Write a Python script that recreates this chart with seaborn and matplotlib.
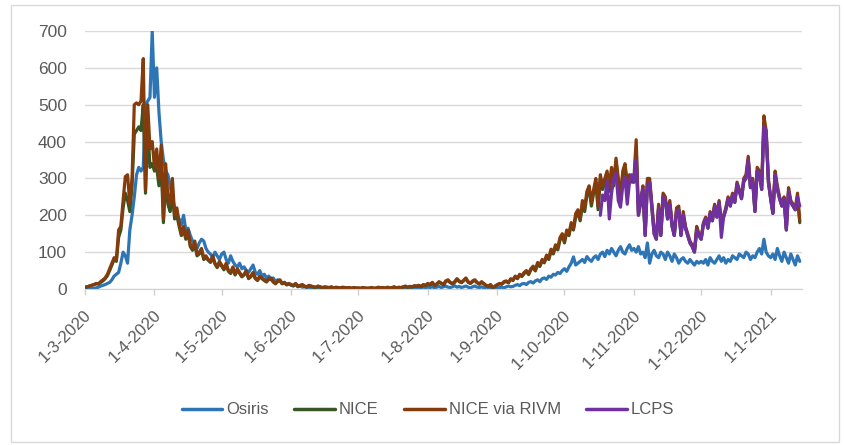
import numpy as np
import pandas as pd
import seaborn as sns
import matplotlib.pyplot as plt
import matplotlib.transforms as mtransforms
from matplotlib import font_manager

# daily values, 1-3-2020 .. 14-1-2021 (one row per month)
osiris = [0,0,0,1,2,3,5,8,10,12, 15,18,25,35,40,45,70,100,90,70, 160,200,250,310,330,320,330,500,510,520, 700,
          520,600,480,400,350,320,310,280,250,220, 200,190,175,200,160,165,145,130,120,110, 125,135,130,110,100,95,85,100,90,80,
          95,100,80,70,90,75,65,60,70,55, 60,50,45,55,65,45,40,50,35,40, 30,35,25,30,20,25,22,15,18,12,15,
          10,8,12,6,8,5,6,4,5,3, 4,3,5,2,3,2,4,2,3,1, 2,3,1,2,1,2,1,1,2,1,
          1,1,2,0,1,1,2,0,1,1, 0,1,2,1,0,1,1,2,1,1, 2,1,2,3,2,3,2,4,3,5,4,
          5,4,6,3,5,7,4,6,8,5, 4,6,9,5,7,4,6,8,5,3, 6,8,5,4,6,3,5,4,2,3,2,
          3,4,5,3,6,8,6,7,10,12, 9,14,15,12,18,20,16,22,25,20, 28,30,26,35,32,40,38,45,42,50,
          55,48,60,70,87,65,70,75,80,72, 88,80,75,85,90,80,95,100,88,105, 95,110,100,90,105,115,100,95,110,120,105,
          110,100,115,95,100,85,125,70,95,105, 90,85,100,95,80,100,90,75,95,85, 70,80,85,75,70,80,72,65,75,70,
          75,70,80,65,85,75,70,80,90,75, 85,70,80,75,90,85,80,95,90,85, 100,95,80,90,85,100,110,95,135,100,90,
          85,95,80,110,90,75,100,85,70,95, 80,65,90,75]

nice = [5,6,8,10,12,14,14,18,22,28, 36,50,65,80,75,140,160,220,260,240, 210,280,420,430,440,430,500,260,440,330,340,
        320,330,280,340,180,300,230,210,260,190, 200,170,145,160,135,150,115,105,120,90, 95,105,80,85,78,72,85,68,58,70,
        62,52,66,48,42,56,38,52,42,33, 38,47,28,33,42,28,23,33,28,23, 19,26,28,19,14,20,23,14,17,11,14,
        11,9,14,7,9,11,7,5,9,7, 5,4,7,5,3,5,4,3,5,2, 4,3,2,4,3,2,3,2,3,2,
        2,2,3,2,2,2,3,2,2,4, 2,3,2,4,2,3,5,2,4,3, 5,7,4,6,5,8,7,9,6,11,9,
        14,11,17,9,13,18,15,11,20,23, 17,14,18,26,20,17,22,28,18,15, 20,23,17,13,18,14,9,7,11,3,7,
        11,14,13,18,20,17,26,23,33,28, 37,34,42,47,39,52,58,49,68,61, 76,71,87,80,102,95,114,106,133,143,
        125,155,145,175,160,195,205,185,230,210, 255,270,225,260,290,215,300,270,290,310, 265,320,280,345,290,240,310,330,280,300,290,
        290,380,200,230,270,145,290,290,220,150, 135,220,145,250,240,190,230,170,145,210, 215,145,200,165,145,125,115,100,160,145,
        135,175,190,165,205,185,225,195,235,175, 195,215,245,225,255,235,280,265,245,290, 300,350,275,290,210,320,310,270,450,420,290,
        245,205,310,270,245,225,245,160,265,235, 225,215,250,180]

nice_rivm = [5,6,8,10,12,15,14,20,25,30, 40,55,70,85,80,160,170,240,305,310, 230,300,500,505,500,510,625,270,500,380,400,
             330,380,300,390,190,340,250,230,300,200, 220,180,150,170,140,160,120,110,130,95, 100,110,85,90,80,75,90,70,60,75,
             65,55,70,50,45,60,40,55,45,35, 40,50,30,35,45,30,25,35,30,25, 20,28,30,20,15,22,25,15,18,12,15,
             12,10,15,8,10,12,8,6,10,8, 6,5,8,6,4,6,5,4,6,3, 5,4,3,5,4,3,4,2,4,3,
             3,2,4,3,2,3,4,2,3,5, 3,4,2,5,3,4,6,3,5,4, 6,8,5,7,6,9,8,10,7,12,10,
             15,12,18,10,14,20,16,12,22,25, 18,15,20,28,22,18,24,30,20,16, 22,25,18,14,20,15,10,8,12,3,8,
             12,15,14,20,22,18,28,25,35,30, 40,36,45,50,42,55,62,52,72,65, 80,75,92,85,108,100,120,112,140,150,
             130,160,150,180,165,205,215,190,240,220, 265,280,235,270,300,225,310,280,300,320, 275,330,290,355,300,250,320,340,290,310,300,
             300,405,210,240,280,150,300,300,230,160, 140,230,150,260,250,200,240,180,150,220, 225,150,210,170,150,130,120,105,170,150,
             140,180,195,170,210,190,230,200,240,180, 200,220,250,230,260,240,290,270,250,300, 310,360,280,300,215,330,320,280,470,430,300,
             250,210,320,280,250,230,250,165,275,240, 230,220,260,185]

# LCPS starts 17-10-2020
lcps = [200,255,240,295,190,260,300,314,240,222,280,304,230,290,310,
        290,350,200,250,270,145,280,290,220,150, 135,220,145,250,240,190,230,170,145,210, 215,145,200,165,145,125,115,100,160,145,
        135,175,190,165,205,185,225,195,235,140, 195,215,245,225,255,235,285,265,245,295, 300,350,275,295,210,320,310,270,440,430,290,
        245,205,310,270,245,225,245,160,265,235, 225,215,250,225]

series_names = ["Osiris", "NICE", "NICE via RIVM", "LCPS"]
colors = ["#2E75B6", "#375623", "#843C0C", "#7030A0"]
tick_labels = ["1-3-2020", "1-4-2020", "1-5-2020", "1-6-2020", "1-7-2020", "1-8-2020",
               "1-9-2020", "1-10-2020", "1-11-2020", "1-12-2020", "1-1-2021"]

days = pd.date_range("2020-03-01", periods=len(osiris))
lcps_days = pd.date_range("2020-10-17", periods=len(lcps))
df = pd.concat([
    pd.DataFrame({"date": days, "value": osiris, "series": "Osiris"}),
    pd.DataFrame({"date": days, "value": nice, "series": "NICE"}),
    pd.DataFrame({"date": days, "value": nice_rivm, "series": "NICE via RIVM"}),
    pd.DataFrame({"date": lcps_days, "value": lcps, "series": "LCPS"}),
])

sns.set_style("white")
installed = {f.name for f in font_manager.fontManager.ttflist}
fam = "Liberation Sans Narrow" if "Liberation Sans Narrow" in installed else "Liberation Sans"
plt.rcParams["font.family"] = [fam, "DejaVu Sans"]
grey = "#595959"

fig = plt.figure(figsize=(8.44, 4.45), dpi=100)
ax = fig.add_axes([85/844, 1-289/445, (802-85)/844, (289-31)/445])
sns.lineplot(data=df, x="date", y="value", hue="series", hue_order=series_names,
             palette=colors, linewidth=2.3, estimator=None, ax=ax)

ax.set_ylim(0, 700)
ax.set_xlim(pd.Timestamp("2020-03-01"), pd.Timestamp("2021-01-15"))
ax.set_yticks(range(0, 701, 100))
ax.grid(axis="y", color="#d9d9d9", linewidth=1.0)
ax.set_axisbelow(True)
for s in ["left", "right", "top"]:
    ax.spines[s].set_visible(False)
ax.spines["bottom"].set_color("#d0d0d0")
ax.set_xlabel("")
ax.set_ylabel("")

month_starts = pd.to_datetime(["2020-03-01", "2020-04-01", "2020-05-01", "2020-06-01", "2020-07-01",
                               "2020-08-01", "2020-09-01", "2020-10-01", "2020-11-01", "2020-12-01", "2021-01-01"])
ax.set_xticks(month_starts)
ax.set_xticklabels(tick_labels, rotation=45, ha="right", va="center", rotation_mode="anchor")
ax.tick_params(axis="x", length=4, width=1, color="#d0d0d0", pad=13, labelsize=12, labelcolor=grey, direction="out", bottom=True)
ax.tick_params(axis="y", length=0, pad=13, labelsize=12.5, labelcolor=grey)
shift = mtransforms.ScaledTranslation(4/100, 0, fig.dpi_scale_trans)
for lab in ax.get_xticklabels():
    lab.set_transform(lab.get_transform() + shift)

sns.move_legend(ax, "center", bbox_to_anchor=(428/844, 1-410/445), bbox_transform=fig.transFigure,
                ncol=4, frameon=False, title=None, fontsize=12, handlelength=2.45,
                handletextpad=0.25, columnspacing=1.5)
for t in ax.get_legend().get_texts():
    t.set_color(grey)
for h in ax.get_legend().legend_handles:
    h.set_linewidth(2.5)

fig.add_artist(plt.Rectangle((11/844, 3/445), (839-11)/844, (440-3)/445, transform=fig.transFigure,
                             fill=False, edgecolor="#d9d9d9", linewidth=1.0))

fig.savefig("out.png", dpi=100)
